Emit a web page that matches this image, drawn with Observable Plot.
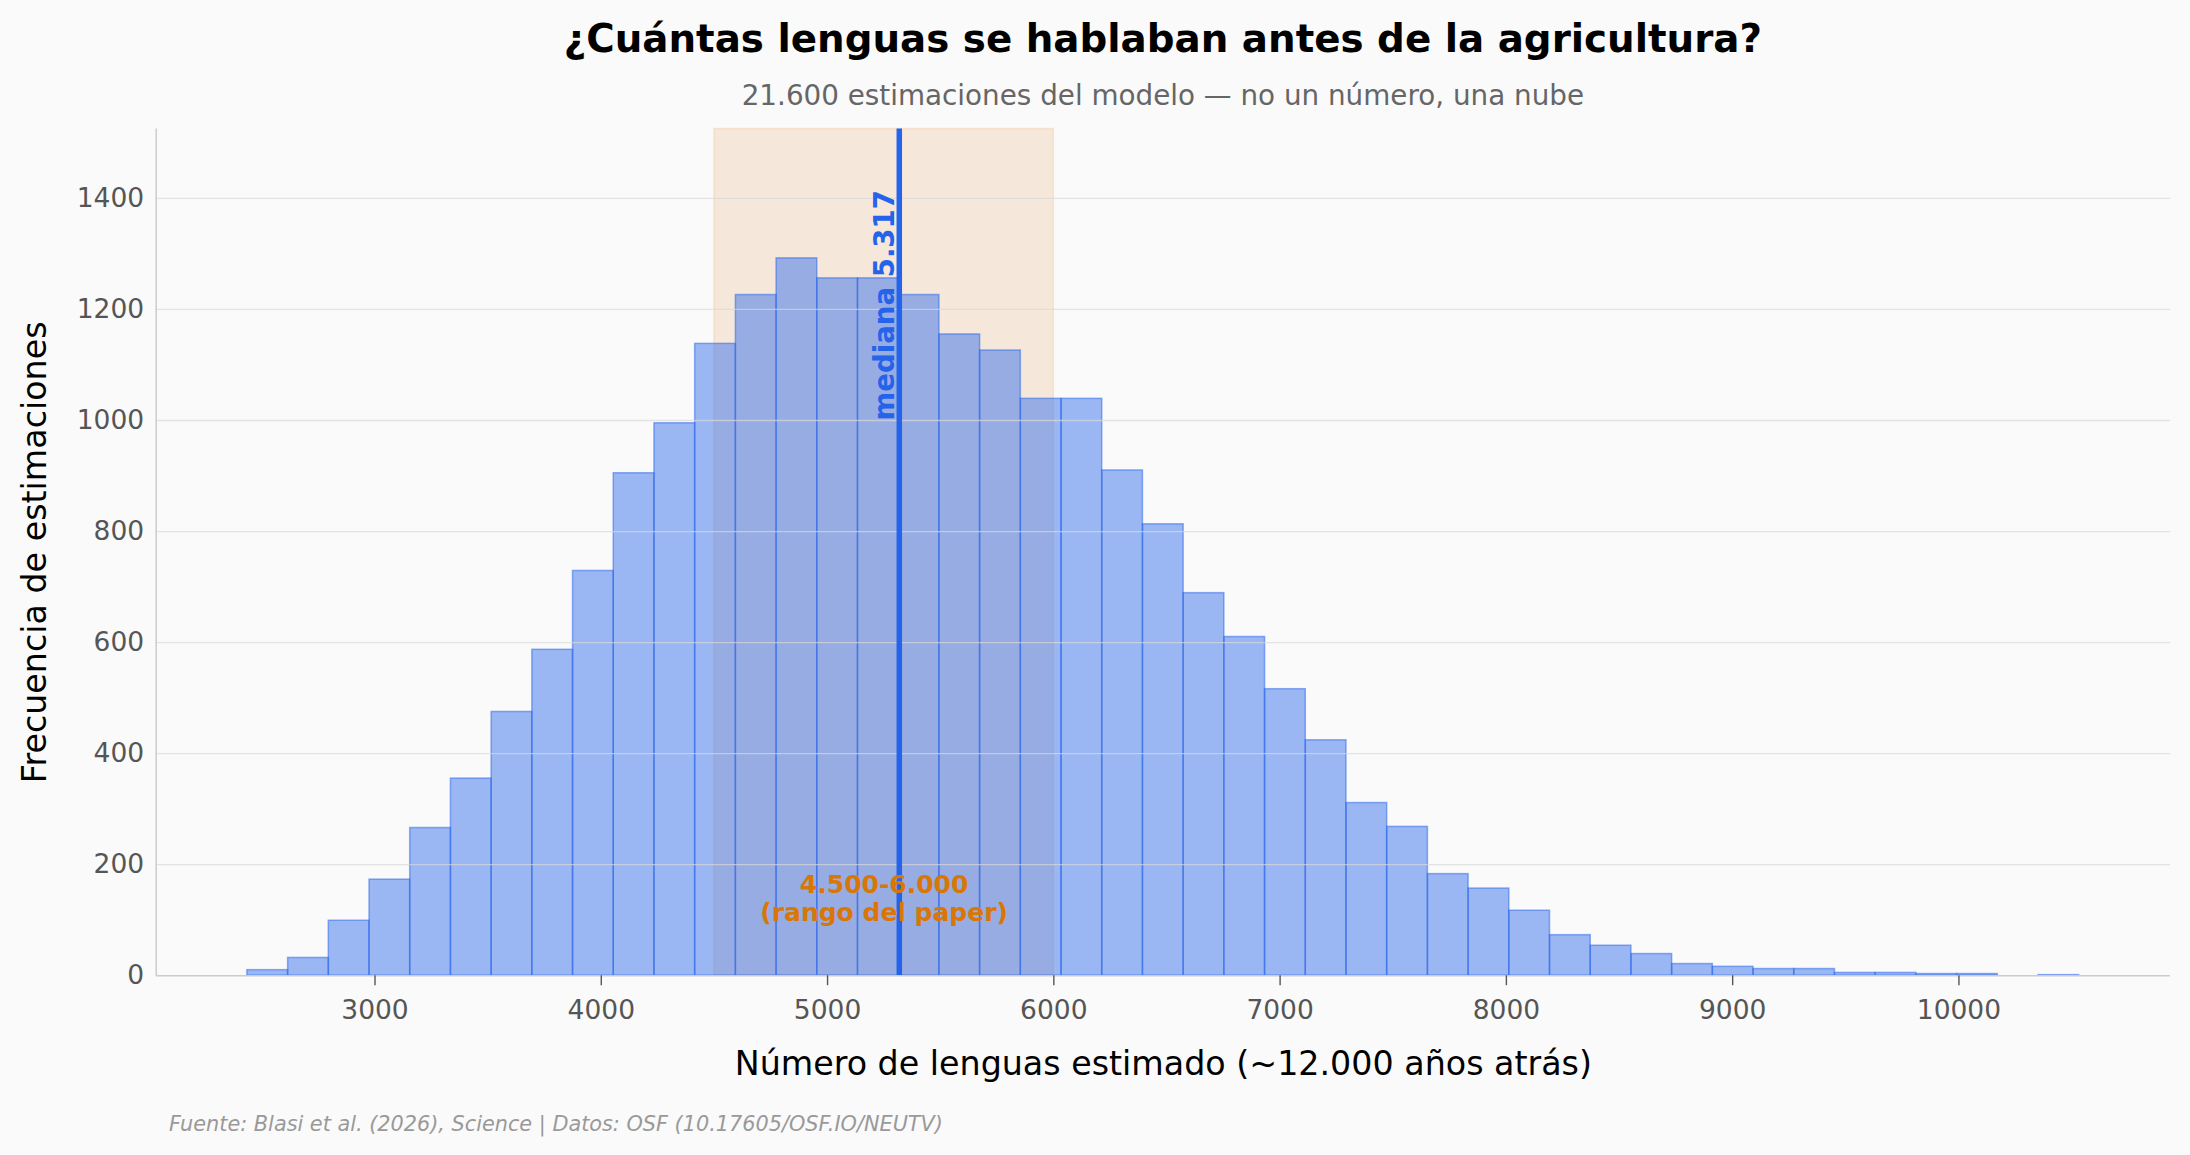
<!DOCTYPE html>
<html lang="es">
<head>
<meta charset="utf-8">
<script src="https://cdn.jsdelivr.net/npm/d3@7"></script>
<script src="https://cdn.jsdelivr.net/npm/@observablehq/plot@0.6"></script>
<style>
  html, body { margin: 0; padding: 0; background: #fafafa; }
  #page { position: relative; width: 2190px; height: 1155px; overflow: hidden; background: #fafafa; font-family: "DejaVu Sans", sans-serif; }
  .t { position: absolute; white-space: nowrap; line-height: 1.164; }
  #title { left: 155.7px; width: 2014.3px; text-align: center; top: 16.3px; font-size: 38.8px; font-weight: bold; color: #000; }
  #subtitle { left: 155.7px; width: 2014.3px; text-align: center; top: 80px; font-size: 27.8px; color: #666; }
  #chart { position: absolute; left: 0; top: 110px; }
  #caption { left: 169px; top: 1111.5px; font-size: 20.8px; font-style: italic; color: #999; }
</style>
</head>
<body>
<div id="page">
  <div id="title" class="t">¿Cuántas lenguas se hablaban antes de la agricultura?</div>
  <div id="subtitle" class="t">21.600 estimaciones del modelo — no un número, una nube</div>
  <div id="chart"></div>
  <div id="caption" class="t">Fuente: Blasi et al. (2026), Science | Datos: OSF (10.17605/OSF.IO/NEUTV)</div>
</div>
<script>
// Histogram counts (45 equal-width bins)
const counts = [10, 32, 99, 173, 266, 355, 475, 587, 729, 905, 995, 1138, 1226, 1292, 1256,
                1256, 1226, 1155, 1126, 1039, 1039, 910, 813, 689, 610, 516, 424, 311, 268, 183,
                157, 117, 73, 54, 39, 21, 16, 12, 12, 5, 5, 3, 3, 0, 1];
const binStart = 2436;
const binWidth = 179.9;
const median = 5317;
const paperRange = [4500, 6000];
const xTicks = [3000, 4000, 5000, 6000, 7000, 8000, 9000, 10000];
const yTicks = [0, 200, 400, 600, 800, 1000, 1200, 1400];
const xDomain = [2033, 10935];
const yDomain = [0, 1525];
const xLabel = "Número de lenguas estimado (~12.000 años atrás)";
const yLabel = "Frecuencia de estimaciones";
const medianLabel = "mediana 5.317";
const rangeLabel = "4.500-6.000\n(rango del paper)";

const bins = counts
  .map((c, i) => ({x1: binStart + i * binWidth, x2: binStart + (i + 1) * binWidth, count: c}))
  .filter(d => d.count > 0);

const chart = Plot.plot({
  width: 2190,
  height: 990,
  marginLeft: 155.7,
  marginRight: 20,
  marginTop: 18.5,
  marginBottom: 124.8,
  x: {domain: xDomain},
  y: {domain: yDomain},
  style: {fontFamily: "DejaVu Sans", background: "transparent", color: "#555", overflow: "visible"},
  marks: [
    Plot.rect([{x1: paperRange[0], x2: paperRange[1]}], {
      x1: "x1", x2: "x2", fill: "#d97706", fillOpacity: 0.13,
      stroke: "#d97706", strokeOpacity: 0.13, strokeWidth: 1.5
    }),
    Plot.rect(bins, {
      x1: "x1", x2: "x2", y1: 0, y2: "count", inset: 0,
      fill: "#2563eb", fillOpacity: 0.45,
      stroke: "#2563eb", strokeOpacity: 0.5, strokeWidth: 1.5
    }),
    Plot.gridY(yTicks.filter(d => d > 0), {stroke: "#d8d8d8", strokeOpacity: 0.7, strokeWidth: 1.3}),
    Plot.ruleX([median], {stroke: "#2563eb", strokeWidth: 5.5}),
    Plot.ruleY([yDomain[0]], {stroke: "#cccccc", strokeWidth: 1.5}),
    Plot.ruleX([xDomain[0]], {stroke: "#cccccc", strokeWidth: 1.5}),
    Plot.axisX(xTicks, {
      tickSize: 10, tickPadding: 14, tickFormat: d => String(d),
      fontSize: 26.5, stroke: "#555", strokeWidth: 1.4, fill: "#555", label: null
    }),
    Plot.axisY(yTicks, {
      tickSize: 0, tickPadding: 12, tickFormat: d => String(d),
      fontSize: 26.5, fill: "#555", label: null
    }),
    Plot.text([xLabel], {
      text: d => d, frameAnchor: "bottom", dy: 88.5, lineAnchor: "middle",
      fontSize: 33.3, fill: "#000"
    }),
    Plot.text([yLabel], {
      text: d => d, frameAnchor: "left", textAnchor: "middle", rotate: -90, dx: -120.4, lineAnchor: "middle",
      fontSize: 33.3, fill: "#000"
    }),
    Plot.text([medianLabel], {
      text: d => d, x: median, y: 1000, rotate: -90, textAnchor: "start", lineAnchor: "middle",
      dx: -14.5, fontSize: 27.6, fontWeight: "bold", fill: "#2563eb"
    }),
    Plot.text([rangeLabel], {
      text: d => d, x: (paperRange[0] + paperRange[1]) / 2, y: 140,
      lineAnchor: "middle", lineHeight: 1.1, fontSize: 25, fontWeight: "bold", fill: "#d97706"
    })
  ]
});
document.getElementById("chart").appendChild(chart);
</script>
</body>
</html>
